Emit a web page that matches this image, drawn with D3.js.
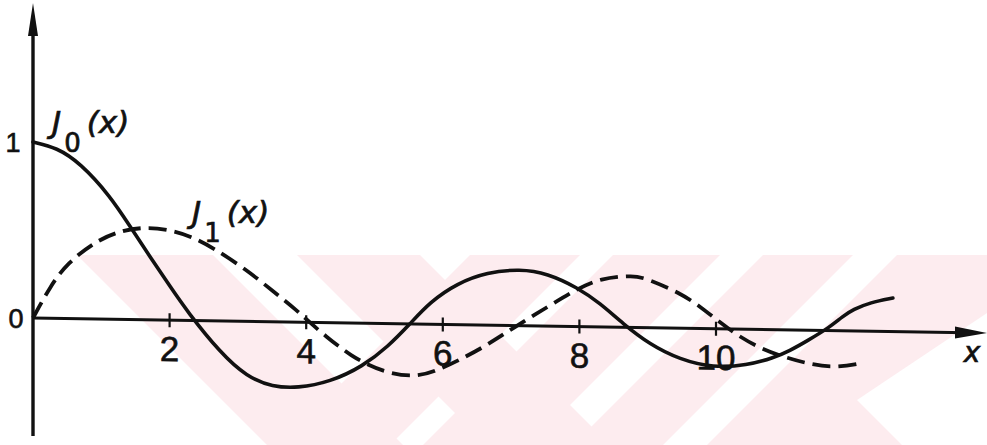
<!DOCTYPE html>
<html>
<head>
<meta charset="utf-8">
<script src="https://cdn.jsdelivr.net/npm/d3@7"></script>
<style>
  html, body { margin: 0; padding: 0; background: #fff; }
  svg { display: block; }
  .tick-label { font-family: "Liberation Sans", Arial, sans-serif; font-size: 35px; fill: #111; stroke: #111; stroke-width: 0.6; }
  .fn-label { font-family: "DejaVu Sans", sans-serif; font-style: oblique; fill: #111; stroke: #111; stroke-width: 0.7; }
</style>
</head>
<body>
<svg id="chart" width="987" height="445"></svg>
<script>
// J0(x): solid curve
const j0X = [0, 0.35, 0.69, 1.13, 1.42, 1.71, 2.01, 2.26, 2.74, 3.13, 3.51, 3.87, 4.35, 4.83, 5.20, 5.52, 5.81, 6.21, 6.65, 7.13, 7.53, 7.97, 8.30, 8.64, 9.03, 9.47, 9.96, 10.45, 10.84, 11.08, 11.33, 11.67, 11.85, 12.01, 12.26, 12.59];
const j0Y = [1.0, 0.97, 0.885, 0.70, 0.53, 0.36, 0.19, 0.05, -0.18, -0.315, -0.37, -0.375, -0.337, -0.245, -0.13, 0.0, 0.125, 0.235, 0.300, 0.322, 0.300, 0.222, 0.135, 0.020, -0.095, -0.178, -0.222, -0.205, -0.161, -0.118, -0.062, 0.020, 0.080, 0.122, 0.163, 0.190];

// J1(x): dashed curve
const j1X = [0, 0.25, 0.50, 0.94, 1.32, 1.67, 2.01, 2.30, 2.64, 3.13, 3.51, 3.87, 4.05, 4.31, 4.50, 4.64, 4.89, 5.23, 5.62, 5.92, 6.30, 6.65, 7.03, 7.53, 7.97, 8.30, 8.79, 9.03, 9.47, 9.77, 10.06, 10.35, 10.69, 11.04, 11.42, 11.77, 12.14];
const j1Y = [0, 0.18, 0.315, 0.449, 0.508, 0.527, 0.512, 0.480, 0.415, 0.292, 0.175, 0.065, 0.0, -0.085, -0.14, -0.18, -0.235, -0.285, -0.300, -0.262, -0.189, -0.113, -0.014, 0.108, 0.215, 0.275, 0.298, 0.272, 0.200, 0.125, 0.035, -0.045, -0.115, -0.160, -0.197, -0.210, -0.182];

const xTicks = [2, 4, 6, 8, 10];
const xTickLabels = ["2", "4", "6", "8", "10"];
const yTicks = [0, 1];
const yTickLabels = ["0", "1"];

const svg = d3.select("#chart");

// faint diagonal background bands
const bg = svg.append("g").attr("fill", "#fdecef");
const bandsDown = [[77, 213], [297, 420]];           // "\" bands, top edge x-range
const bandsUp = [[470, 580], [613, 720], [763, 853], [897, 1100]]; // "/" bands, top edge x-range
const yTop = 255, yBot = 445, h = yBot - yTop;
bandsDown.forEach(([a, b]) => {
  bg.append("polygon").attr("points", [[a, yTop], [b, yTop], [b + h, yBot], [a + h, yBot]].join(" "));
});
bandsUp.forEach(([a, b]) => {
  bg.append("polygon").attr("points", [[a, yTop], [b, yTop], [b - h, yBot], [a - h, yBot]].join(" "));
});
svg.append("polygon").attr("fill", "#fff")
  .attr("points", [[857, 400], [987, 313], [987, 445], [902, 445]].join(" "));

const x0 = 33, y0 = 318;
const x = d3.scaleLinear().domain([0, 14]).range([x0, x0 + 14 * 68.3]);
const y = d3.scaleLinear().domain([0, 1]).range([y0, 142]);

// the plot is drawn slightly sheared: the x axis falls gently to the right
const g = svg.append("g")
  .attr("transform", `translate(${x0},${y0}) skewY(0.9) translate(${-x0},${-y0})`);

// y axis with arrow
g.append("line").attr("x1", x0).attr("x2", x0).attr("y1", 30).attr("y2", 436)
  .attr("stroke", "#111").attr("stroke-width", 3.4);
g.append("path").attr("d", `M${x0},3 L${x0 - 5},36 L${x0 + 5},36 Z`).attr("fill", "#111");

// x axis with arrow
const xEnd = 987;
g.append("line").attr("x1", x0).attr("x2", xEnd - 20).attr("y1", y0).attr("y2", y0)
  .attr("stroke", "#111").attr("stroke-width", 3);
g.append("path").attr("d", `M${xEnd},${y0} L${xEnd - 32},${y0 - 6} L${xEnd - 32},${y0 + 6} Z`).attr("fill", "#111");

// ticks and labels
g.selectAll(".xt").data(xTicks).join("line")
  .attr("x1", d => x(d)).attr("x2", d => x(d))
  .attr("y1", y0 - 7).attr("y2", y0 + 7)
  .attr("stroke", "#111").attr("stroke-width", 2.2);
g.selectAll(".xl").data(xTicks).join("text")
  .attr("class", "tick-label")
  .attr("x", d => x(d)).attr("y", y0 + 41)
  .attr("text-anchor", "middle")
  .text((d, i) => xTickLabels[i]);

svg.selectAll(".yl").data(yTicks).join("text")
  .attr("class", "tick-label")
  .style("font-size", "27px")
  .attr("x", d => d === 0 ? 16 : 13).attr("y", d => y(d) + 10)
  .attr("text-anchor", "middle")
  .text((d, i) => yTickLabels[i]);

// curves
const line = d3.line().x(d => x(d[0])).y(d => y(d[1])).curve(d3.curveBasis);
g.append("path").datum(j0X.map((v, i) => [v, j0Y[i]]))
  .attr("d", line).attr("fill", "none").attr("stroke", "#111")
  .attr("stroke-width", 3.6).attr("stroke-linecap", "round");
g.append("path").datum(j1X.map((v, i) => [v, j1Y[i]]))
  .attr("d", line).attr("fill", "none").attr("stroke", "#111")
  .attr("stroke-width", 3.8).attr("stroke-dasharray", "18,8").attr("stroke-linecap", "butt");

// x axis name
svg.append("text").attr("class", "fn-label").style("font-size", "28px")
  .attr("x", 972).attr("y", 362).attr("text-anchor", "middle").text("x");

// function labels
function fnLabel(px, py, sub) {
  const t = svg.append("text").attr("class", "fn-label").attr("x", px).attr("y", py).style("font-size", "31px");
  t.append("tspan").text("J");
  t.append("tspan").attr("dy", 19).attr("dx", 3).style("font-size", "26px").style("font-style", "normal").text(sub);
  t.append("tspan").attr("dy", -19).attr("dx", 6).text("(x)");
}
fnLabel(52, 133, "0");
fnLabel(192, 223, "1");
</script>
</body>
</html>
